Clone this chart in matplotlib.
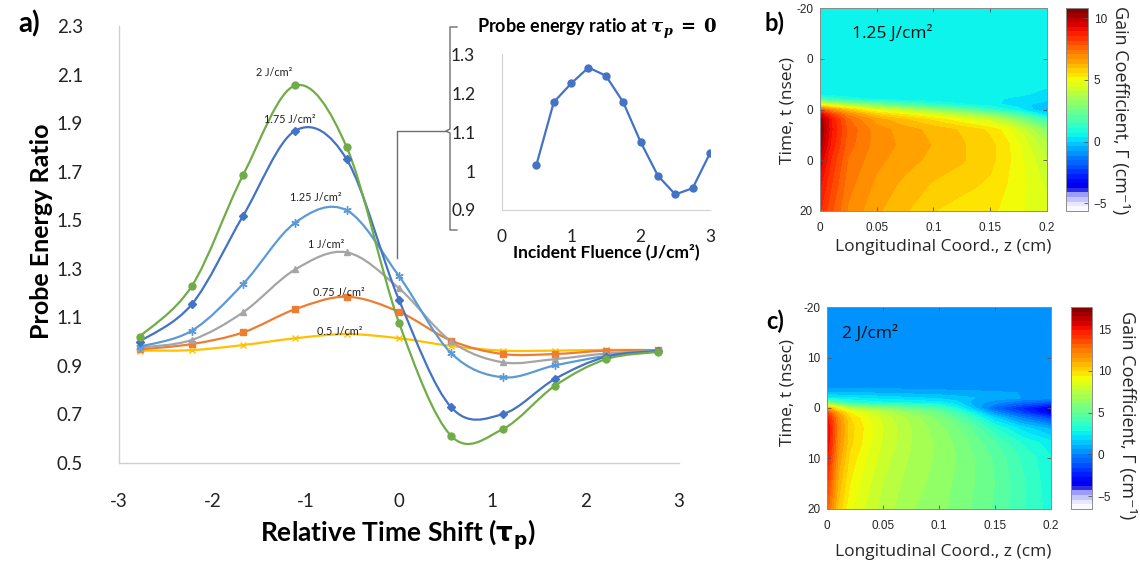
import numpy as np
import matplotlib
matplotlib.use("Agg")
import matplotlib.pyplot as plt
from matplotlib.path import Path
from matplotlib.patches import PathPatch
from matplotlib.lines import Line2D
from matplotlib.colors import LinearSegmentedColormap

# ---------------- data ----------------
time_shift = [-2.78, -2.22, -1.67, -1.11, -0.56, 0.0, 0.56, 1.11, 1.67, 2.22, 2.78]
fluence_labels = ["0.5 J/cm²", "0.75 J/cm²", "1 J/cm²", "1.25 J/cm²", "1.75 J/cm²", "2 J/cm²"]
ratio_05 = [0.962, 0.964, 0.985, 1.013, 1.030, 1.013, 0.981, 0.962, 0.962, 0.965, 0.964]
ratio_075 = [0.967, 0.989, 1.037, 1.133, 1.184, 1.122, 1.003, 0.948, 0.948, 0.962, 0.964]
ratio_1 = [0.974, 1.006, 1.120, 1.297, 1.367, 1.219, 1.000, 0.914, 0.927, 0.950, 0.962]
ratio_125 = [0.978, 1.044, 1.237, 1.490, 1.540, 1.269, 0.951, 0.852, 0.901, 0.940, 0.962]
ratio_175 = [0.999, 1.153, 1.518, 1.869, 1.750, 1.171, 0.728, 0.700, 0.845, 0.937, 0.960]
ratio_2 = [1.019, 1.228, 1.686, 2.055, 1.800, 1.077, 0.610, 0.638, 0.817, 0.927, 0.957]

inset_fluence = [0.5, 0.75, 1.0, 1.25, 1.5, 1.75, 2.0, 2.25, 2.5, 2.75, 3.0]
inset_ratio = [1.016, 1.177, 1.225, 1.266, 1.245, 1.177, 1.075, 0.988, 0.940, 0.956, 1.046]

main_yticks = [0.5, 0.7, 0.9, 1.1, 1.3, 1.5, 1.7, 1.9, 2.1, 2.3]
main_xticks = [-3, -2, -1, 0, 1, 2, 3]
inset_yticks = [0.9, 1.0, 1.1, 1.2, 1.3]
inset_ytick_labels = ["0.9", "1", "1.1", "1.2", "1.3"]
inset_xticks = [0, 1, 2, 3]

# panel b gain map (rows: time t, cols: z)
b_z = [0.0, 0.01, 0.025, 0.05, 0.075, 0.1, 0.125, 0.15, 0.165, 0.175, 0.2]
b_t = [-20, -5, -3, -2, -1, 0, 1, 2, 4, 7, 10, 15, 20]
b_gain = [
    [0.4, 0.4, 0.4, 0.4, 0.4, 0.4, 0.4, 0.4, 0.4, 0.4, 0.4],
    [0.4, 0.4, 0.4, 0.4, 0.4, 0.4, 0.4, 0.4, 0.4, 0.4, 0.4],
    [0.6, 0.5, 0.45, 0.4, 0.4, 0.4, 0.4, 0.4, 0.4, 0.4, 0.3],
    [1.8, 1.4, 1.0, 0.7, 0.55, 0.45, 0.4, 0.4, 0.35, 0.3, 0.1],
    [4.8, 4.2, 3.5, 2.5, 1.8, 1.2, 0.8, 0.5, 0.3, 0.2, -0.3],
    [7.8, 6.8, 5.8, 4.6, 3.8, 3.0, 2.2, 1.3, 0.8, 0.5, -0.5],
    [9.5, 8.3, 7.0, 5.8, 5.2, 4.6, 3.8, 3.0, 2.3, 1.8, 0.2],
    [10.3, 8.9, 7.5, 6.5, 6.0, 5.5, 4.9, 4.3, 3.6, 3.0, 1.5],
    [10.6, 9.0, 7.7, 6.9, 6.5, 6.2, 5.9, 5.5, 5.0, 4.5, 3.0],
    [10.2, 8.8, 7.6, 6.9, 6.6, 6.3, 6.0, 5.7, 5.3, 4.9, 3.8],
    [9.6, 8.5, 7.4, 6.8, 6.5, 6.2, 6.0, 5.7, 5.3, 5.0, 4.1],
    [9.0, 8.2, 7.2, 6.6, 6.2, 5.9, 5.7, 5.5, 5.2, 5.0, 4.4],
    [8.6, 7.9, 7.0, 6.4, 6.0, 5.6, 5.4, 5.3, 5.1, 4.9, 4.6],
]
b_range = (-5.6, 10.8)
b_cticks = [-5, 0, 5, 10]
b_yticks = [-20, -10, 0, 10, 20]
b_ytick_labels = ["-20", "0", "0", "0", "20"]

# panel c gain map
c_z = [0.0, 0.005, 0.01, 0.02, 0.035, 0.05, 0.075, 0.1, 0.115, 0.13, 0.15, 0.175, 0.2]
c_t = [-20, -4, -3, -2, -1, 0, 1, 2, 4, 7, 10, 15, 20]
c_gain = [
    [0.4, 0.4, 0.4, 0.4, 0.4, 0.4, 0.4, 0.4, 0.4, 0.4, 0.4, 0.4, 0.4],
    [0.5, 0.5, 0.5, 0.5, 0.5, 0.5, 0.5, 0.45, 0.4, 0.4, 0.4, 0.4, 0.4],
    [1.2, 1.2, 1.2, 1.2, 1.2, 1.1, 1.0, 0.9, 0.85, 0.8, 0.7, 0.6, 0.5],
    [2.5, 2.5, 2.4, 2.3, 2.2, 2.0, 1.8, 1.6, 1.4, 1.2, 0.9, 0.6, 0.3],
    [6.0, 5.2, 4.5, 3.6, 3.2, 3.0, 2.8, 2.5, 2.0, 1.0, 0.2, -0.8, -1.5],
    [11.0, 10.0, 9.0, 7.5, 6.8, 6.2, 5.2, 4.3, 3.0, 1.5, -0.8, -2.2, -3.6],
    [13.8, 12.4, 11.0, 9.4, 8.4, 7.6, 6.4, 5.3, 4.2, 2.8, 0.5, -1.5, -3.4],
    [15.0, 13.4, 11.8, 10.0, 9.0, 8.1, 7.0, 5.9, 5.0, 3.9, 1.8, 0.0, -1.5],
    [15.6, 13.8, 12.0, 10.2, 9.2, 8.3, 7.2, 6.3, 5.7, 4.9, 3.4, 2.0, 1.0],
    [15.4, 13.6, 11.8, 10.1, 9.1, 8.2, 7.2, 6.5, 6.0, 5.4, 4.5, 3.3, 2.5],
    [14.8, 13.1, 11.4, 9.8, 8.8, 8.0, 7.1, 6.5, 6.1, 5.6, 4.9, 3.8, 2.9],
    [13.8, 12.3, 10.8, 9.4, 8.5, 7.7, 6.9, 6.4, 6.0, 5.6, 5.0, 4.0, 3.0],
    [12.9, 11.6, 10.3, 9.0, 8.2, 7.5, 6.7, 6.3, 5.9, 5.5, 4.9, 4.0, 3.1],
]
c_range = (-6.5, 17.6)
c_cticks = [-5, 0, 5, 10, 15]
c_yticks = [-20, -10, 0, 10, 20]
c_ytick_labels = ["-20", "10", "0", "10", "20"]
zticks = [0, 0.05, 0.1, 0.15, 0.2]
zticklabels = ["0", "0.05", "0.1", "0.15", "0.2"]

# ---------------- figure ----------------
W, H = 1140, 563
fig = plt.figure(figsize=(W / 100, H / 100), dpi=100)
MAINF = ["Lato", "DejaVu Sans"]
MFONT = ["Open Sans", "DejaVu Sans"]
TFONT = ["Liberation Sans", "DejaVu Sans"]


def px_rect(x0, y0, x1, y1):
    return [x0 / W, 1 - y1 / H, (x1 - x0) / W, (y1 - y0) / H]


def smooth_patch(ax, xs, ys, color, lw):
    pts = np.column_stack([xs, ys]).astype(float)
    n = len(pts)
    verts = [tuple(pts[0])]
    codes = [Path.MOVETO]
    for i in range(n - 1):
        p0 = pts[i - 1] if i > 0 else pts[i]
        p3 = pts[i + 2] if i + 2 < n else pts[i + 1]
        c1 = pts[i] + (pts[i + 1] - p0) / 6.0
        c2 = pts[i + 1] - (p3 - pts[i]) / 6.0
        verts += [tuple(c1), tuple(c2), tuple(pts[i + 1])]
        codes += [Path.CURVE4] * 3
    patch = PathPatch(Path(verts, codes), facecolor="none", edgecolor=color, lw=lw,
                      transform=ax.transData, zorder=2)
    ax.add_patch(patch)


# ---- panel a: main ----
ax = fig.add_axes(px_rect(119, 26, 679, 462.7))
ax.set_xlim(-3, 3)
ax.set_ylim(0.5, 2.3)
series = [ratio_05, ratio_075, ratio_1, ratio_125, ratio_175, ratio_2]
colors = ["#FFC000", "#ED7D31", "#A5A5A5", "#5B9BD5", "#4472C4", "#70AD47"]
markers = ["x", "s", "^", (6, 2, 0), "D", "o"]
msizes = [5, 5, 5, 6, 4, 5]
for ys, col, mk, ms in zip(series, colors, markers, msizes):
    smooth_patch(ax, time_shift, ys, col, 1.6)
    ax.plot(time_shift, ys, linestyle="none", marker=mk, color=col, markersize=ms,
            markeredgewidth=1.0, zorder=3)
label_pos = [(-0.64, 1.04), (-0.64, 1.20), (-0.78, 1.40), (-0.89, 1.595), (-1.17, 1.915), (-1.34, 2.11)]
for lab, (lx, ly) in zip(fluence_labels, label_pos):
    ax.text(lx, ly, lab, fontsize=7.8, family=MAINF, ha="center", va="center", color="#222222", zorder=4)

for s in ["top", "right"]:
    ax.spines[s].set_visible(False)
for s in ["left", "bottom"]:
    ax.spines[s].set_color("#d0d0d0")
    ax.spines[s].set_linewidth(1.0)
ax.set_xticks(main_xticks)
ax.set_xticklabels([str(v) for v in main_xticks])
ax.set_yticks(main_yticks)
ax.set_yticklabels([f"{v:.1f}" for v in main_yticks])
ax.tick_params(axis="both", length=0, labelsize=13.5, colors="#222222")
ax.tick_params(axis="y", pad=26)
ax.tick_params(axis="x", pad=22)
for t in ax.get_xticklabels() + ax.get_yticklabels():
    t.set_family(MAINF)
ax.set_ylabel("Probe Energy Ratio", fontsize=18, fontweight="bold", family=MAINF,
              va="center", ha="center")
ax.yaxis.set_label_coords((42 - 119) / 560, (462.7 - 231) / 436.7)
ax.set_xlabel(r"Relative Time Shift ($\mathbf{\tau_p}$)", fontsize=19, fontweight="bold",
              family=MAINF, va="center", ha="center", math_fontfamily="dejavusans")
ax.xaxis.set_label_coords((398 - 119) / 560, (462.7 - 535) / 436.7)
fig.text(29 / W, 1 - 24 / H, "a)", fontsize=20, fontweight="bold", family=MAINF, ha="center", va="center")

# ---- inset ----
axi = fig.add_axes(px_rect(501.7, 54.3, 710.0, 210.0))
axi.set_xlim(0, 3)
axi.set_ylim(0.9, 1.3)
axi.plot(inset_fluence, inset_ratio, color="#4472C4", lw=1.6, marker="o", markersize=5)
for s in ["top", "right"]:
    axi.spines[s].set_visible(False)
for s in ["left", "bottom"]:
    axi.spines[s].set_color("#d0d0d0")
axi.set_xticks(inset_xticks)
axi.set_xticklabels([str(v) for v in inset_xticks])
axi.set_yticks(inset_yticks)
axi.set_yticklabels(inset_ytick_labels)
axi.tick_params(axis="both", length=0, labelsize=12.5, colors="#222222")
axi.tick_params(axis="y", pad=19)
axi.tick_params(axis="x", pad=14)
for t in axi.get_xticklabels() + axi.get_yticklabels():
    t.set_family(MAINF)
axi.set_facecolor("none")
axi.set_xlabel("Incident Fluence (J/cm²)", fontsize=12.5, fontweight="bold", family=MAINF,
               va="center", ha="center")
axi.xaxis.set_label_coords(0.50, (210 - 252) / 155.7)
axi.text((597 - 501.7) / 208.3, (210 - 29) / 155.7,
         r"Probe energy ratio at $\mathbfit{\tau_p}\mathbf{\;=\;0}$",
         transform=axi.transAxes, fontsize=13, fontweight="bold", family=MAINF,
         ha="center", va="center", math_fontfamily="dejavuserif")

# bracket & connector
def fline(xs, ys, **kw):
    fig.add_artist(Line2D([x / W for x in xs], [1 - y / H for y in ys], transform=fig.transFigure,
                          color="#6e6e6e", lw=1.0, **kw))

fline([397, 397, 446], [258, 131, 131])
fline([457, 450, 450, 446, 450, 450, 457], [27, 27, 129, 131, 133, 230, 230])

# ---- colormap ----
jet = plt.get_cmap("jet")
stops = [(0.0, (1, 1, 1)), (0.04, (0.88, 0.88, 1.0)), (0.08, (0.6, 0.6, 1.0)),
         (0.10, (0.2, 0.2, 0.92)), (0.115, (0.0, 0.0, 0.85)), (0.14, (0.0, 0.0, 1.0))]
for j in np.linspace(0.125, 1.0, 30)[1:]:
    f = 0.14 + (j - 0.125) / 0.875 * 0.86
    stops.append((f, jet(j)[:3]))
cmap = LinearSegmentedColormap.from_list("gain", stops)


def heat_panel(rect_ax, rect_cb, zs, ts, gain, rng, cticks, yticks, ylabels, title, letter, letter_pos,
               title_pos, ylab_pos, xlab_pos, clab_pos):
    a = fig.add_axes(rect_ax)
    levels = np.linspace(rng[0], rng[1], 45)
    cs = a.contourf(zs, ts, np.array(gain), levels=levels, cmap=cmap, vmin=rng[0], vmax=rng[1])
    a.set_xlim(0, 0.2)
    a.set_ylim(20, -20)
    a.set_xticks(zticks)
    a.set_xticklabels(zticklabels)
    a.set_yticks(yticks)
    a.set_yticklabels(ylabels)
    a.tick_params(direction="in", length=3, labelsize=8.5, colors="#262626", top=True, right=True,
                  color="#555555", width=0.6)
    a.tick_params(axis="x", pad=8)
    a.tick_params(axis="y", pad=5)
    for t in a.get_xticklabels() + a.get_yticklabels():
        t.set_family(TFONT)
    for s in a.spines.values():
        s.set_color("#8c8c8c")
        s.set_linewidth(0.7)
    a.set_xlabel("Longitudinal Coord., z (cm)", fontsize=12.5, family=MFONT, color="#262626",
                 va="center", ha="center")
    a.xaxis.set_label_coords(*xlab_pos)
    a.set_ylabel("Time, t (nsec)", fontsize=12.5, family=MFONT, color="#262626",
                 va="center", ha="center")
    a.yaxis.set_label_coords(*ylab_pos)
    a.text(title_pos[0], title_pos[1], title, fontsize=12.5, family=MFONT, ha="left", va="center",
           color="#111111")
    cax = fig.add_axes(rect_cb)
    cb = fig.colorbar(cs, cax=cax, ticks=cticks)
    cb.outline.set_edgecolor("#8c8c8c")
    cb.outline.set_linewidth(0.7)
    cax.tick_params(direction="in", length=3, labelsize=8.5, colors="#262626", color="#555555",
                    width=0.6, pad=4)
    for t in cax.get_yticklabels():
        t.set_family(TFONT)
    cax.set_ylabel("Gain Coefficient, Γ (cm⁻¹)", fontsize=13, family=MFONT, rotation=-90,
                   color="#262626", va="center", ha="center")
    cax.yaxis.set_label_coords(*clab_pos)
    fig.text(letter_pos[0] / W, 1 - letter_pos[1] / H, letter, fontsize=17, fontweight="bold",
             family=MAINF, ha="center", va="center")
    return a


heat_panel(px_rect(820, 8.3, 1046.7, 210.7), px_rect(1066, 8.3, 1088, 210.7),
           b_z, b_t, b_gain, b_range, b_cticks, b_yticks, b_ytick_labels,
           "1.25 J/cm²", "b)", (775, 23), (0.028, -15.0),
           ((788 - 820) / 226.7, 0.4975), ((943.3 - 820) / 226.7, (210.7 - 246.7) / 202.4),
           ((1120 - 1066) / 22, 0.4975))

heat_panel(px_rect(827.3, 307.3, 1050.7, 508.7), px_rect(1070.7, 307.3, 1092.3, 508.7),
           c_z, c_t, c_gain, c_range, c_cticks, c_yticks, c_ytick_labels,
           "2 J/cm²", "c)", (775, 321), (0.013, -14.8),
           ((788 - 827.3) / 223.4, 0.575), ((943.3 - 827.3) / 223.4, (508.7 - 551.7) / 201.4),
           ((1126.7 - 1070.7) / 21.6, 0.465))

fig.savefig("out.png", dpi=100)
